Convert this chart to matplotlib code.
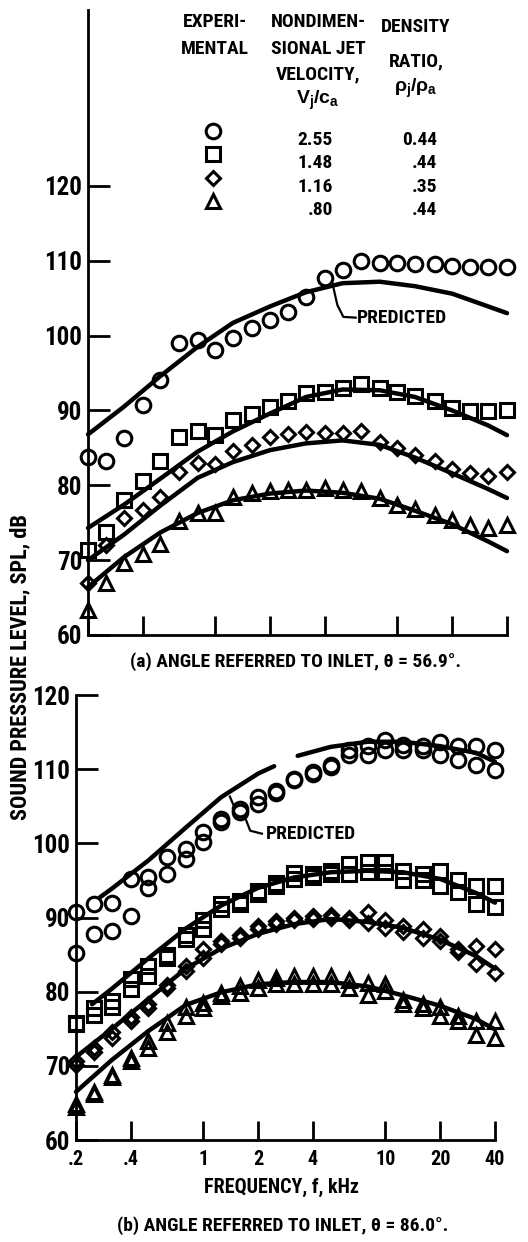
import numpy as np
import matplotlib
matplotlib.use('Agg')
import matplotlib.pyplot as plt
from matplotlib.ticker import NullLocator

plt.rcParams['font.family'] = ['Roboto Condensed', 'Liberation Sans', 'DejaVu Sans']
plt.rcParams['font.weight'] = 'bold'
plt.rcParams['mathtext.fontset'] = 'custom'
plt.rcParams['mathtext.rm'] = 'Liberation Sans:bold'
plt.rcParams['mathtext.it'] = 'Liberation Sans:bold'
plt.rcParams['mathtext.bf'] = 'Liberation Sans:bold'

# one-third octave band centres, kHz
freq = [0.2, 0.25, 0.315, 0.4, 0.5, 0.63, 0.8, 1.0, 1.25, 1.6, 2.0, 2.5,
        3.15, 4.0, 5.0, 6.3, 8.0, 10.0, 12.5, 16.0, 20.0, 25.0, 31.5, 40.0]

# (a) angle 56.9 deg, measured SPL, dB
a_circle = [83.8, 83.2, 86.3, 90.7, 94.1, 99.0, 99.4, 98.1, 99.7, 101.0, 102.1, 103.2,
            105.2, 107.7, 108.7, 110.0, 109.7, 109.7, 109.6, 109.5, 109.3, 109.2, 109.1, 109.1]
a_square = [71.4, 73.7, 78.1, 80.6, 83.2, 86.5, 87.3, 86.7, 88.7, 89.5, 90.4, 91.2,
            92.3, 92.5, 93.0, 93.6, 93.0, 92.4, 91.9, 91.2, 90.3, 89.9, 89.9, 90.1]
a_diamond = [66.9, 72.0, 75.6, 76.7, 78.4, 81.8, 83.0, 82.9, 84.6, 85.4, 86.4, 86.8,
             87.1, 87.0, 87.0, 87.2, 85.8, 85.0, 84.1, 83.2, 82.2, 81.6, 81.2, 81.8]
a_triangle = [63.3, 66.9, 69.6, 70.8, 72.2, 75.2, 76.3, 76.3, 78.5, 79.0, 79.3, 79.4,
              79.4, 79.6, 79.4, 79.2, 78.3, 77.4, 76.9, 76.0, 75.4, 74.7, 74.3, 74.7]

# (a) predicted
pred_f = [0.2, 0.315, 0.5, 0.8, 1.25, 2.0, 3.15, 5.0, 8.0, 12.5, 20.0, 31.5, 40.0]
a_pred_circle = [86.8, 90.5, 94.6, 98.5, 101.7, 103.9, 105.8, 107.0, 107.2, 106.6, 105.6, 103.9, 103.0]
a_pred_square = [74.3, 77.4, 80.9, 84.5, 87.2, 89.6, 91.8, 92.8, 92.7, 91.8, 90.0, 88.0, 86.7]
a_pred_diamond = [70.0, 73.4, 77.3, 81.0, 83.1, 84.7, 85.6, 86.0, 85.4, 83.7, 81.6, 79.5, 78.3]
a_pred_triangle = [66.4, 70.4, 73.7, 76.3, 78.0, 78.9, 79.3, 79.0, 78.2, 76.6, 74.8, 72.5, 71.2]

# (b) angle 86.0 deg, two runs per condition
b_circle_1 = [90.7, 91.8, 92.0, 95.2, 95.4, 98.1, 99.3, 101.5, 103.3, 104.6, 106.2, 107.0,
              108.7, 109.6, 110.5, 112.6, 113.1, 113.9, 113.2, 113.1, 113.7, 113.1, 113.1, 112.6]
b_circle_2 = [85.2, 87.8, 88.2, 90.2, 94.0, 95.9, 97.9, 100.2, 102.9, 104.2, 105.3, 106.8,
              108.5, 109.4, 110.3, 111.9, 111.9, 112.6, 112.6, 112.6, 111.9, 111.3, 110.6, 109.9]
b_square_1 = [75.8, 77.8, 78.7, 81.7, 83.4, 85.0, 87.7, 89.6, 91.8, 92.2, 93.6, 94.7,
              96.0, 95.8, 96.3, 97.2, 97.5, 97.5, 96.3, 95.9, 96.3, 95.0, 94.3, 94.3]
b_square_2 = [75.6, 76.9, 78.0, 80.3, 82.1, 84.6, 87.1, 88.4, 91.2, 91.8, 93.2, 94.3,
              95.2, 95.4, 95.9, 95.9, 96.1, 96.1, 95.0, 95.0, 94.3, 93.4, 91.8, 91.4]
b_diamond_1 = [70.6, 72.4, 74.6, 76.6, 78.3, 80.9, 83.4, 85.7, 86.8, 87.7, 88.8, 89.5,
               90.0, 90.2, 90.4, 90.0, 90.7, 89.6, 88.9, 88.4, 87.5, 85.7, 86.2, 85.7]
b_diamond_2 = [70.1, 71.8, 73.7, 76.0, 77.8, 80.5, 82.8, 84.5, 86.4, 87.3, 88.4, 89.1,
               89.6, 89.8, 90.0, 89.6, 89.3, 88.6, 88.0, 87.3, 86.8, 85.3, 83.7, 82.5]
b_triangle_1 = [64.9, 66.5, 68.8, 71.0, 73.3, 75.8, 78.0, 78.5, 79.8, 80.7, 81.6, 81.9,
                82.1, 82.1, 82.1, 81.6, 81.2, 81.0, 78.9, 78.3, 78.0, 76.7, 76.0, 76.0]
b_triangle_2 = [64.5, 66.2, 68.5, 70.6, 72.4, 74.6, 76.7, 77.8, 79.4, 79.8, 80.5, 81.0,
                81.0, 81.0, 81.0, 80.5, 79.6, 80.1, 78.3, 77.8, 76.7, 76.0, 74.2, 73.7]

# (b) predicted (circle curve has a break in the print)
b_pred_circle_f = [0.27, 0.315, 0.5, 0.8, 1.25, 2.0, 2.45, np.nan, 3.3, 5.0, 8.0, 12.5, 20.0, 31.5, 40.0]
b_pred_circle = [92.7, 93.9, 97.7, 102.1, 106.2, 109.4, 110.4, np.nan, 111.8, 113.0, 113.7, 113.7, 113.1, 112.2, 111.0]
b_pred_square_f = [0.245, 0.315, 0.5, 0.8, 1.25, 2.0, 3.15, 5.0, 8.0, 12.5, 20.0, 31.5, 40.0]
b_pred_square = [78.3, 80.4, 84.5, 88.5, 91.6, 94.0, 95.4, 96.1, 96.3, 96.1, 95.2, 93.3, 92.0]
b_pred_diamond = [71.2, 75.0, 79.0, 83.1, 85.8, 87.8, 89.1, 89.8, 89.4, 88.6, 87.0, 84.8, 83.1]
b_pred_triangle = [66.5, 70.8, 74.7, 78.2, 79.9, 81.0, 81.3, 81.3, 80.7, 79.5, 78.1, 76.3, 74.9]

# legend table
leg_velocity = ['2.55', '1.48', '1.16', '.80']
leg_density = ['0.44', '.44', '.35', '.44']

tick_f = [0.2, 0.4, 1, 2, 4, 10, 20, 40]
tick_lbl = ['.2', '.4', '1', '2', '4', '10', '20', '40']

W, H = 528, 1242
marker_style = {
    'o': dict(ms=10.5),
    's': dict(ms=9.5),
    'D': dict(ms=7.2),
    '^': dict(ms=10.5),
}


def px_box(l, t, r, b):
    return [l / W, 1 - b / H, (r - l) / W, (b - t) / H]


def pts(ax, y, m):
    ax.plot(freq, y, ls='none', marker=m, mfc='none', mec='black', mew=2.2,
            clip_on=False, zorder=3, **marker_style[m])


def curve(ax, x, y):
    ax.plot(x, y, color='black', lw=3.2, solid_capstyle='round',
            solid_joinstyle='round', clip_on=False, zorder=2)


def setup(ax, top):
    ax.set_xscale('log')
    ax.set_xlim(0.2, 40)
    ax.set_facecolor('none')
    for s in ['top', 'right']:
        ax.spines[s].set_visible(False)
    for s in ['left', 'bottom']:
        ax.spines[s].set_linewidth(2.0)
    ax.set_yticks(range(60, 121, 10))
    ax.set_xticks(tick_f)
    ax.xaxis.set_minor_locator(NullLocator())
    ax.tick_params(axis='y', direction='in', length=16, width=2.0, pad=4, labelsize=18)
    ax.tick_params(axis='x', direction='in', length=14, width=2.0, pad=7, labelsize=14.5)
    if top:
        ax.tick_params(axis='x', labelbottom=False)
    else:
        ax.set_xticklabels(tick_lbl)


fig = plt.figure(figsize=(W / 100, H / 100), dpi=100)

# panel (a)
ax1 = fig.add_axes(px_box(88, 10, 507, 635))
setup(ax1, True)
ax1.set_ylim(60, 143.5)
curve(ax1, pred_f, a_pred_circle)
curve(ax1, pred_f, a_pred_square)
curve(ax1, pred_f, a_pred_diamond)
curve(ax1, pred_f, a_pred_triangle)
pts(ax1, a_circle, 'o')
pts(ax1, a_square, 's')
pts(ax1, a_diamond, 'D')
pts(ax1, a_triangle, '^')
ax1.plot([4.38, 4.68, 5.05, 5.9], [107.2, 104.1, 102.5, 102.4], color='black', lw=1.6)
ax1.text(6.0, 102.4, 'PREDICTED', ha='left', va='center', fontsize=14)

# panel (b)
ax2 = fig.add_axes(px_box(76, 695, 495, 1140))
setup(ax2, False)
ax2.set_ylim(60, 120)
curve(ax2, b_pred_circle_f, b_pred_circle)
curve(ax2, b_pred_square_f, b_pred_square)
curve(ax2, pred_f, b_pred_diamond)
curve(ax2, pred_f, b_pred_triangle)
for y, m in [(b_circle_1, 'o'), (b_circle_2, 'o'), (b_square_1, 's'), (b_square_2, 's'),
             (b_diamond_1, 'D'), (b_diamond_2, 'D'), (b_triangle_1, '^'), (b_triangle_2, '^')]:
    pts(ax2, y, m)
ax2.plot([1.40, 1.48], [106.3, 104.9], color='black', lw=1.6)
ax2.plot([1.72, 1.81, 2.1], [103.1, 101.7, 101.3], color='black', lw=1.6)
ax2.text(2.2, 101.3, 'PREDICTED', ha='left', va='center', fontsize=14)

# overlay in pixel coordinates for shared labels and legend table
ov = fig.add_axes([0, 0, 1, 1], zorder=10)
ov.set_xlim(0, W)
ov.set_ylim(H, 0)
ov.axis('off')

ov.text(20, 667, 'SOUND PRESSURE LEVEL, SPL, dB', rotation=90, ha='center', va='center', fontsize=16)
ov.text(296, 662, '(a) ANGLE REFERRED TO INLET, \u03b8 = 56.9\u00b0.', ha='center', va='center', fontsize=14)
ov.text(282, 1187, 'FREQUENCY, f, kHz', ha='center', va='center', fontsize=14.5)
ov.text(283, 1226, '(b) ANGLE REFERRED TO INLET, \u03b8 = 86.0\u00b0.', ha='center', va='center', fontsize=14)

for txt, y in [('EXPERI-', 22), ('MENTAL', 49)]:
    ov.text(215, y, txt, ha='center', va='center', fontsize=14)
for txt, y in [('NONDIMEN-', 22), ('SIONAL JET', 49), ('VELOCITY,', 74), ('$V_j/c_a$', 100)]:
    ov.text(318, y, txt, ha='center', va='center', fontsize=14)
for txt, y in [('DENSITY', 27), ('RATIO,', 61), ('$\\rho_j/\\rho_a$', 88)]:
    ov.text(416, y, txt, ha='center', va='center', fontsize=14)

row_y = [140, 163, 187, 210]
for m, y, v, d in zip(['o', 's', 'D', '^'], row_y, leg_velocity, leg_density):
    ov.plot([213], [y - 9], ls='none', marker=m, mfc='none', mec='black', mew=2.2, **marker_style[m])
    ov.text(333, y, v, ha='right', va='center', fontsize=14)
    ov.text(437, y, d, ha='right', va='center', fontsize=14)

fig.savefig('out.png', dpi=100)
